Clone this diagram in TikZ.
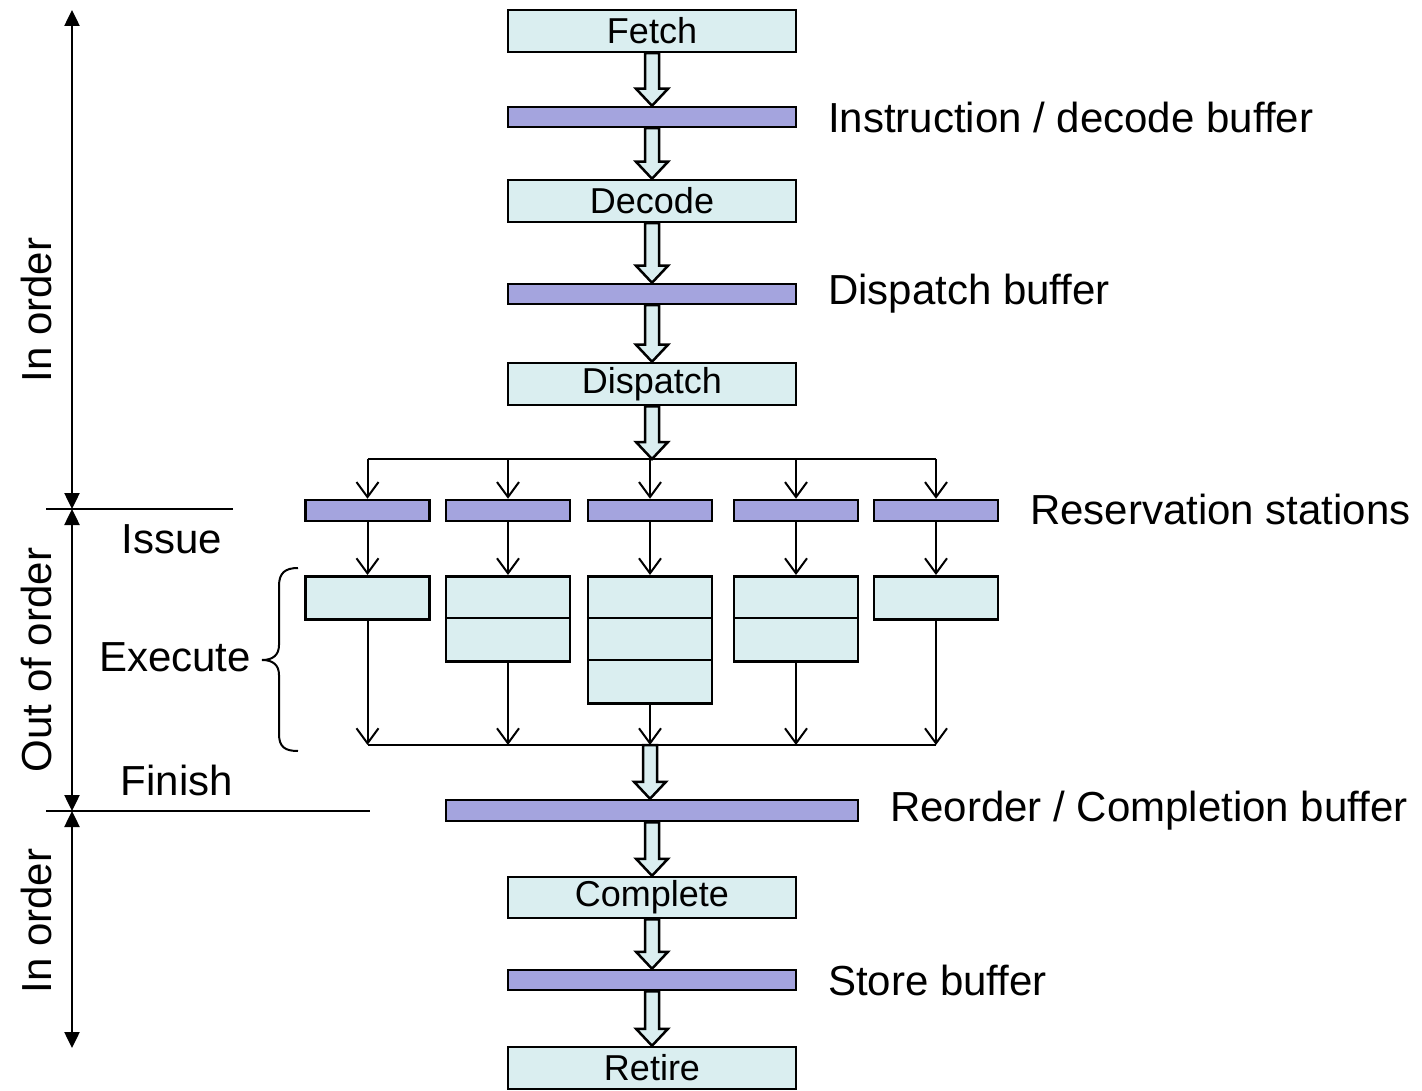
\documentclass[tikz,border=0pt]{standalone}
\usepackage{fontspec}
\setmainfont{Liberation Sans}
\usetikzlibrary{arrows.meta,calc}
\definecolor{boxfill}{RGB}{218,238,240}
\definecolor{barfill}{RGB}{164,164,222}
\newcommand\hollowarrow[2]{%
  \draw[hollow] let \p1=(#1), \p2=(#2) in
    (\x1-7pt,\y1) -- (\x1-7pt,\y2+17pt) -- (\x1-16pt,\y2+17pt) -- (\x1,\y2)
    -- (\x1+16pt,\y2+17pt) -- (\x1+7pt,\y2+17pt) -- (\x1+7pt,\y1) -- cycle;}
\begin{document}
\begin{tikzpicture}[x=1pt,y=-1pt,
  stage/.style={draw,line width=2.5pt,fill=boxfill,minimum width=288pt,minimum height=42pt,inner sep=0pt,font=\fontsize{36}{43}\selectfont},
  bar/.style={draw,line width=2.5pt,fill=barfill,minimum width=288pt,minimum height=20pt,inner sep=0pt},
  rsbar/.style={bar,minimum width=124pt,minimum height=21pt},
  exbox/.style={draw,line width=2.5pt,fill=boxfill,minimum width=124pt,inner sep=0pt},
  hollow/.style={draw,fill=boxfill,line width=2.5pt,line join=miter},
  thinarrow/.style={line width=2pt,-{Straight Barb[length=15pt,width=22pt,line width=2pt]}},
  dblarrow/.style={line width=2.5pt,{Triangle[length=16pt,width=15pt]}-{Triangle[length=16pt,width=15pt]}},
  lbl/.style={inner sep=0pt,font=\fontsize{42}{50}\selectfont},
  plain/.style={line width=2pt}]
\useasboundingbox (0,0) rectangle (1422,1091);

% main column
\node[stage] (fetch) at (652,31) {Fetch};
\node[bar] (ibuf) at (652,117) {};
\node[stage] (decode) at (652,201) {Decode};
\node[bar] (dbuf) at (652,294) {};
\node[stage] (dispatch) at (652,384) {Dispatch};
\coordinate (dist) at (650,459);

\node[rsbar] (rs1) at (367.5,510.5) {};
\node[rsbar] (rs2) at (508,510.5) {};
\node[rsbar] (rs3) at (650,510.5) {};
\node[rsbar] (rs4) at (796,510.5) {};
\node[rsbar] (rs5) at (936,510.5) {};

\node[exbox,minimum height=43pt,anchor=north] (ex1) at (367.5,575) {};
\node[exbox,minimum height=85pt,anchor=north] (ex2) at (508,575) {};
\node[exbox,minimum height=127pt,anchor=north] (ex3) at (650,575) {};
\node[exbox,minimum height=85pt,anchor=north] (ex4) at (796,575) {};
\node[exbox,minimum height=43pt,anchor=north] (ex5) at (936,575) {};
\draw[line width=2.5pt] ($(ex2.north west)+(0,43)$) -- ($(ex2.north east)+(0,43)$);
\draw[line width=2.5pt] ($(ex3.north west)+(0,43)$) -- ($(ex3.north east)+(0,43)$);
\draw[line width=2.5pt] ($(ex3.north west)+(0,85)$) -- ($(ex3.north east)+(0,85)$);
\draw[line width=2.5pt] ($(ex4.north west)+(0,43)$) -- ($(ex4.north east)+(0,43)$);
\coordinate (coll) at (650,745);

\node[bar,minimum width=412pt,minimum height=21pt] (reorder) at (652,810.5) {};
\node[stage,minimum height=41pt] (complete) at (652,897.5) {Complete};
\node[bar] (sbuf) at (652,980) {};
\node[stage] (retire) at (652,1068) {Retire};

% hollow arrows
\hollowarrow{fetch.south}{ibuf.north}
\hollowarrow{ibuf.south}{decode.north}
\hollowarrow{decode.south}{dbuf.north}
\hollowarrow{dbuf.south}{dispatch.north}
\hollowarrow{dispatch.south}{dist}
\hollowarrow{coll}{reorder.north}
\hollowarrow{reorder.south}{complete.north}
\hollowarrow{complete.south}{sbuf.north}
\hollowarrow{sbuf.south}{retire.north}

% distribution
\draw[plain] (rs1.north |- dist) -- (rs5.north |- dist);
\foreach \i in {1,...,5} {
  \draw[thinarrow] (rs\i.north |- dist) -- (rs\i.north);
  \draw[thinarrow] (rs\i.south) -- (ex\i.north);
  \draw[thinarrow] (ex\i.south) -- (ex\i.south |- coll);
}
\draw[plain] (ex1.south |- coll) -- (ex5.south |- coll);

% right labels
\node[lbl,anchor=west] (l1) at (828,117) {Instruction / decode buffer};
\node[lbl,anchor=west] (l2) at (828,294) {Dispatch buffer};
\node[lbl,anchor=west] (l3) at (1030,509) {Reservation stations};
\node[lbl,anchor=west] (l4) at (890,811) {Reorder / Completion buffer};
\node[lbl,anchor=west] (l5) at (828,980) {Store buffer};

% left side
\coordinate (t1) at (72,10);
\coordinate (m1) at (72,509);
\coordinate (m2) at (72,811);
\coordinate (b1) at (72,1048);
\draw[dblarrow] (t1) -- (m1);
\draw[dblarrow] (m1) -- (m2);
\draw[dblarrow] (m2) -- (b1);
\coordinate (h1a) at (46,509); \coordinate (h1b) at (233,509);
\coordinate (h2a) at (46,811); \coordinate (h2b) at (370,811);
\draw[plain] (h1a) -- (h1b);
\draw[plain] (h2a) -- (h2b);

\node[lbl,rotate=90] (io1) at (36,310) {In order};
\node[lbl,rotate=90] (ooo) at (36,660) {Out of order};
\node[lbl,rotate=90] (io2) at (36,921) {In order};
\node[lbl] (issue) at (172,539) {Issue};
\node[lbl] (exec) at (175,657) {Execute};
\node[lbl] (finish) at (177,780) {Finish};

% brace
\draw[plain] (298,568) .. controls (285,568) and (279,573) .. (279,586) -- (279,645)
  .. controls (279,655) and (273,660) .. (262,660)
  .. controls (273,660) and (279,665) .. (279,675) -- (279,734)
  .. controls (279,747) and (285,751) .. (298,751);
\end{tikzpicture}
\end{document}
